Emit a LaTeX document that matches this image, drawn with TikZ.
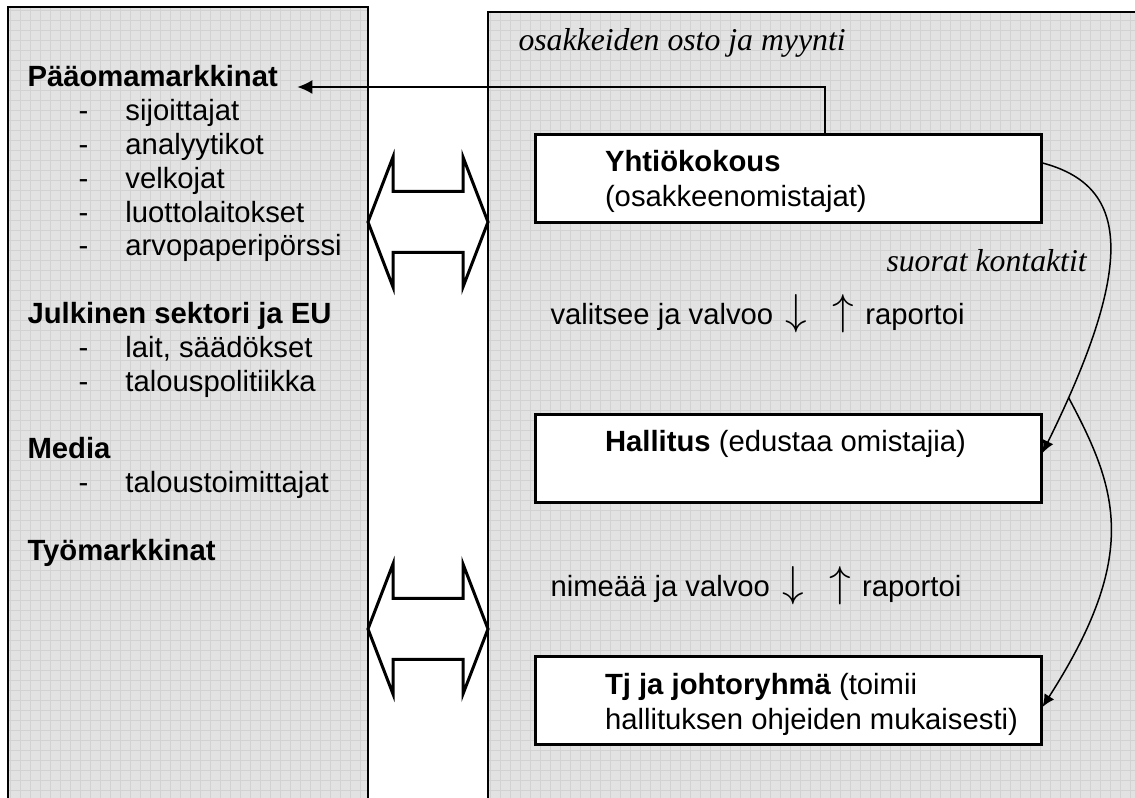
\documentclass[tikz,border=0pt]{standalone}
\usepackage{fontspec}
\setmainfont{Liberation Sans}
\newfontfamily\timesit{Liberation Serif}
\usetikzlibrary{arrows.meta, positioning}

\definecolor{panelgray}{RGB}{226,226,226}
\definecolor{gridgray}{RGB}{210,210,210}

\newcommand{\dashitem}[1]{\makebox[18.8pt][l]{-}#1}
\newcommand{\bigarr}[1]{{\fontsize{18}{18}\selectfont$#1$}}

\begin{document}
\begin{tikzpicture}[%
        x=0.4pt, y=-0.4pt,           % one unit = one pixel of the layout, y grows downwards
        >={Latex[length=5pt, width=4.6pt]},
        font=\fontsize{11.7}{13.52}\selectfont,
    ]
    \tikzset{
        panelframe/.style={draw, line width=0.8pt},
        gridline/.style={draw=gridgray, line width=0.3pt},
        head/.style={anchor=base west, inner sep=0, font=\fontsize{11.7}{13.52}\selectfont\bfseries},
        % multi-line nodes are anchored at the baseline of their last line
        items/.style={anchor=base west, inner sep=0, align=left},
        box/.style={draw, fill=white, line width=1.2pt, minimum width=202pt, minimum height=35.2pt, inner sep=0},
        boxtxt/.style={anchor=base west, inner sep=0, align=left, font=\fontsize{11.7}{13.8}\selectfont},
        note/.style={anchor=base west, inner sep=0, font=\fontsize{12.7}{15}\selectfont\timesit\itshape},
        mid/.style={anchor=base west, inner sep=0},
        bigarrow/.style={draw, fill=white, line width=1.2pt, miter limit=20},
        % -------------------------------------------------
        link/.style={->, draw, line width=0.6pt},
        toplink/.style={-{Latex[length=6pt, width=5.6pt]}, draw, line width=0.6pt},
    }
    \useasboundingbox (0,0) rectangle (1135,798);
    \clip (0,0) rectangle (1135,798);
    \fill[white] (0,0) rectangle (1135,798);
    %%% Panels
    \foreach \xa/\xb/\ya in {8/368/7, 488/1160/12} {
        \fill[panelgray] (\xa,\ya) rectangle (\xb,820);
        \begin{scope}
            \clip (\xa,\ya) rectangle (\xb,820);
            \draw[gridline] (0,798) grid[step=4pt] (1135,0);
        \end{scope}
        \draw[panelframe] (\xa,820) -- (\xa,\ya) -- (\xb,\ya) -- (\xb,820);
    }
    %%% Stakeholders
    \node[head] (capmkt) at (27,87) {Pääomamarkkinat};
    \node[items] (capmkt-list) at ([xshift=20.4pt, yshift=-67.6pt]capmkt.base west) {%
        \dashitem{sijoittajat}\\
        \dashitem{analyytikot}\\
        \dashitem{velkojat}\\
        \dashitem{luottolaitokset}\\
        \dashitem{arvopaperipörssi}};
    \node[head] (public) at (27,323.6) {Julkinen sektori ja EU};
    \node[items] (public-list) at ([xshift=20.4pt, yshift=-27.04pt]public.base west) {%
        \dashitem{lait, säädökset}\\
        \dashitem{talouspolitiikka}};
    \node[head] (media) at (27,458.8) {Media};
    \node[items] (media-list) at ([xshift=20.4pt, yshift=-13.52pt]media.base west) {%
        \dashitem{taloustoimittajat}};
    \node[head] (labour) at (27,560.2) {Työmarkkinat};
    %%% Exchange arrows
    \foreach \y in {222, 629}
        \draw[bigarrow] (368,\y) -- ++(25,-65) -- ++(0,34.5) -- ++(70,0) -- ++(0,-34.5)
            -- (488,\y) -- ++(-25,65) -- ++(0,-34.5) -- ++(-70,0) -- ++(0,34.5) -- cycle;
    %%% Blocks
    \node[box] (yhtio) at (788.5,179) {};
    \node[box] (hallitus) at (788.5,458.5) {};
    \node[box] (tj) at (788.5,701) {};
    \node[boxtxt] (yhtio-txt) at ([xshift=28pt, yshift=-29.2pt]yhtio.north west) {%
        \textbf{Yhtiökokous}\\(osakkeenomistajat)};
    \node[boxtxt] (hallitus-txt) at ([xshift=28pt, yshift=-15.4pt]hallitus.north west) {%
        \textbf{Hallitus} (edustaa omistajia)};
    \node[boxtxt] (tj-txt) at ([xshift=28pt, yshift=-29.6pt]tj.north west) {%
        \textbf{Tj ja johtoryhmä} (toimii\\hallituksen ohjeiden mukaisesti)};
    %%% Labels
    \node[note] (trade) at (518,51) {osakkeiden osto ja myynti};
    \node[note] (contacts) at (886,272) {suorat kontaktit};
    \node[mid] (elect) at (550,325) {valitsee ja valvoo\hspace{5pt}\bigarr{\downarrow}\hspace{10pt}\bigarr{\uparrow}\hspace{4.6pt}raportoi};
    \node[mid] (appoint) at (550,597) {nimeää ja valvoo\hspace{5pt}\bigarr{\downarrow}\hspace{10pt}\bigarr{\uparrow}\hspace{4.6pt}raportoi};
    %%% Connectors
    \draw[toplink] ([xshift=14.6pt]yhtio.north) |- ([xshift=7.6pt]capmkt.base east);
    \draw[link] ([yshift=6.4pt]yhtio.east) .. controls (1125,185) and (1140,255) ..
        ([yshift=2.2pt]hallitus.east) coordinate[pos=0.9] (split);
    \draw[link] (split) .. controls (1118,490) and (1140,555) .. ([yshift=-2.4pt]tj.east);
\end{tikzpicture}
\end{document}
